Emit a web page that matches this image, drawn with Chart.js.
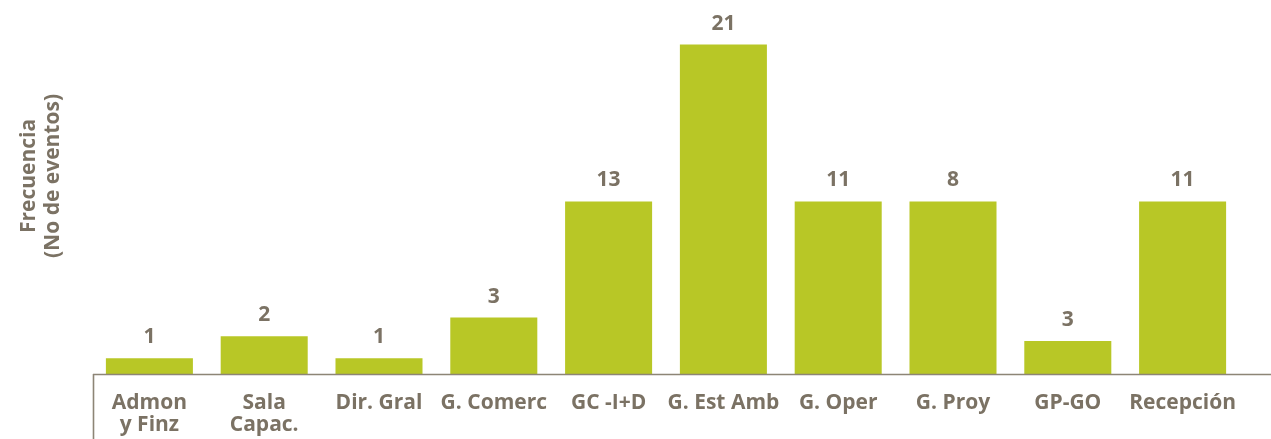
<!DOCTYPE html>
<html>
<head>
<meta charset="utf-8">
<script src="https://cdn.jsdelivr.net/npm/chart.js@4/dist/chart.umd.min.js"></script>
<style>
  html, body { margin: 0; padding: 0; background: #ffffff; }
  #wrap { width: 1271px; height: 439px; position: relative; }
</style>
</head>
<body>
<div id="wrap"><canvas id="c" width="1271" height="439"></canvas></div>
<script>
// Categories (x-axis labels, multi-line where wrapped in the picture)
const categories = [
  ["Admon", "y Finz"],
  ["Sala", "Capac."],
  "Dir. Gral",
  "G. Comerc",
  "GC -I+D",
  "G. Est Amb",
  "G. Oper",
  "G. Proy",
  "GP-GO",
  "Recepción"
];
const barHeights = [1, 2.4, 1, 3.6, 11, 21, 11, 11, 2.1, 11];
// Value labels printed above each bar
const valueLabels = ["1", "2", "1", "3", "13", "21", "11", "8", "3", "11"];
// Axis title
const yTitle = ["Frecuencia", "(No de eventos)"];

const TEXT = "#7b7264";
const BAR = "#b8c726";
const AXIS = "#8d8576";
const FONT = "'Open Sans', 'DejaVu Sans', sans-serif";

const decor = {
  id: "decor",
  afterDatasetsDraw(chart) {
    const ctx = chart.ctx;
    const area = chart.chartArea;
    const y0 = chart.scales.y.getPixelForValue(0);
    ctx.save();
    // baseline and left tick line
    ctx.strokeStyle = AXIS;
    ctx.lineWidth = 1.6;
    ctx.beginPath();
    ctx.moveTo(area.left + 1, y0 + 0.5);
    ctx.lineTo(chart.width, y0 + 0.5);
    ctx.moveTo(area.left + 1.5, y0);
    ctx.lineTo(area.left + 1.5, chart.height);
    ctx.stroke();
    // value labels
    ctx.fillStyle = TEXT;
    ctx.font = "700 21px " + FONT;
    ctx.textAlign = "center";
    ctx.textBaseline = "alphabetic";
    const meta = chart.getDatasetMeta(0);
    meta.data.forEach((bar, i) => {
      ctx.fillText(valueLabels[i], bar.x, bar.y - 15);
    });
    // rotated y title
    ctx.translate(35, 176);
    ctx.rotate(-Math.PI / 2);
    ctx.fillText(yTitle[0], 0, 0);
    ctx.fillText(yTitle[1], 0, 24);
    ctx.restore();
  }
};

new Chart(document.getElementById("c"), {
  type: "bar",
  data: {
    labels: categories,
    datasets: [{
      data: barHeights,
      backgroundColor: BAR,
      borderWidth: 0,
      barPercentage: 0.758,
      categoryPercentage: 1.0
    }]
  },
  options: {
    responsive: false,
    animation: false,
    events: [],
    layout: { padding: { left: 92, right: 31, top: 21, bottom: 0 } },
    plugins: {
      legend: { display: false },
      tooltip: { enabled: false },
      title: { display: false }
    },
    scales: {
      x: {
        grid: { display: false, drawTicks: false },
        border: { display: false },
        ticks: {
          color: TEXT,
          font: { family: FONT, size: 21, weight: "700", lineHeight: 1.05 },
          padding: 18,
          maxRotation: 0,
          autoSkip: false
        },
        afterFit(scale) { scale.height = 65; }
      },
      y: {
        display: false,
        min: 0,
        max: 22.5
      }
    }
  },
  plugins: [decor]
});
</script>
</body>
</html>
